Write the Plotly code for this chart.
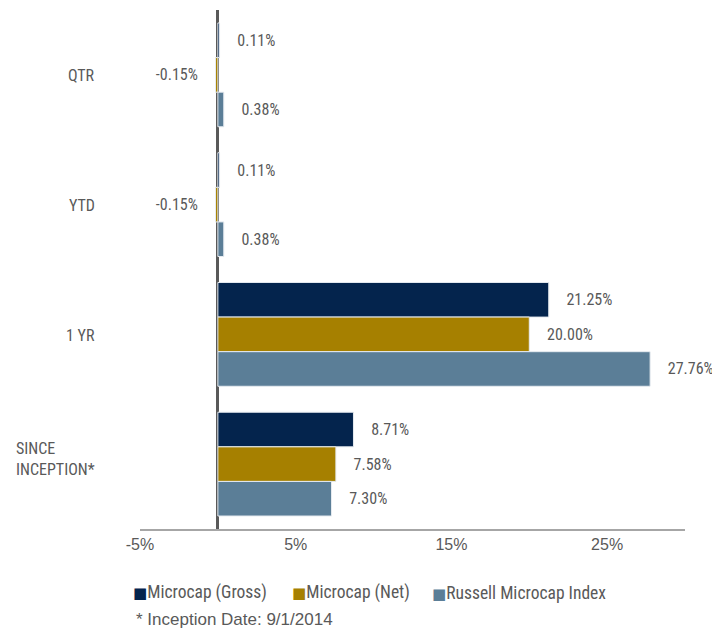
import plotly.graph_objects as go

categories = ["QTR", "YTD", "1 YR", "SINCE<br>INCEPTION*"]
series_names = ["Microcap (Gross)", "Microcap (Net)", "Russell Microcap Index"]
gross = [0.11, 0.11, 21.25, 8.71]
net = [-0.15, -0.15, 20.00, 7.58]
russell = [0.38, 0.38, 27.76, 7.30]
x_ticks = [-5, 5, 15, 25]
x_tick_labels = ["-5%", "5%", "15%", "25%"]
footnote = "* Inception Date: 9/1/2014"

colors = ["#04244d", "#a68000", "#5b7e97"]
GRAY = "#595959"
NARROW = "Roboto Condensed, Liberation Sans, Arial"
REG = "Liberation Sans, Arial, sans-serif"
PAD = "\u00a0" * 4


def labels(vals):
    out = []
    for v in vals:
        s = f"{v:.2f}%"
        out.append(s + PAD if v < 0 else PAD + s)
    return out


fig = go.Figure()
for name, vals, col in zip(series_names, [gross, net, russell], colors):
    fig.add_trace(go.Bar(
        y=categories, x=vals, name=name, orientation="h",
        marker=dict(color=col, line=dict(color="#e6ebf0", width=1)),
        text=labels(vals), textposition="outside", cliponaxis=False,
        constraintext="none",
        textfont=dict(family=NARROW, size=16, color=GRAY),
    ))

for c in categories:
    fig.add_annotation(
        xref="paper", yref="y", x=-0.079, y=c, text=c, showarrow=False,
        xanchor="right", yanchor="middle", align="left",
        yshift=5 if "<br>" in c else -1,
        font=dict(family=NARROW, size=16, color=GRAY),
    )

# legend drawn as text items
legend_x = [-0.0174, 0.2761, 0.5312]
for name, col, lx in zip(series_names, colors, legend_x):
    fig.add_annotation(
        xref="paper", yref="paper", x=lx, y=-0.1233,
        text=f"<span style='color:{col};font-size:15px;font-family:DejaVu Sans'>■</span>{name}",
        showarrow=False, xanchor="left", yanchor="middle",
        font=dict(family=NARROW, size=17.5, color=GRAY),
    )

fig.add_annotation(
    xref="paper", yref="paper", x=-0.011, y=-0.175, text=footnote,
    showarrow=False, xanchor="left", yanchor="middle",
    font=dict(family=REG, size=17, color=GRAY),
)

fig.update_layout(
    width=712, height=622,
    margin=dict(l=132, r=35, t=2, b=101),
    paper_bgcolor="white", plot_bgcolor="white",
    barmode="group", bargap=0.2, bargroupgap=0,
    showlegend=False,
    xaxis=dict(
        range=[-5, 30], tickvals=x_ticks, ticktext=x_tick_labels,
        showgrid=False, zeroline=True, zerolinecolor="#595959", zerolinewidth=3,
        showline=True, linecolor="#a6a6a6", linewidth=2,
        ticks="", tickfont=dict(family=REG, size=16, color=GRAY),
        fixedrange=True,
    ),
    yaxis=dict(
        autorange="reversed", showticklabels=False, showgrid=False,
        zeroline=False, showline=False, ticks="",
    ),
)

fig.write_html("out.html")
